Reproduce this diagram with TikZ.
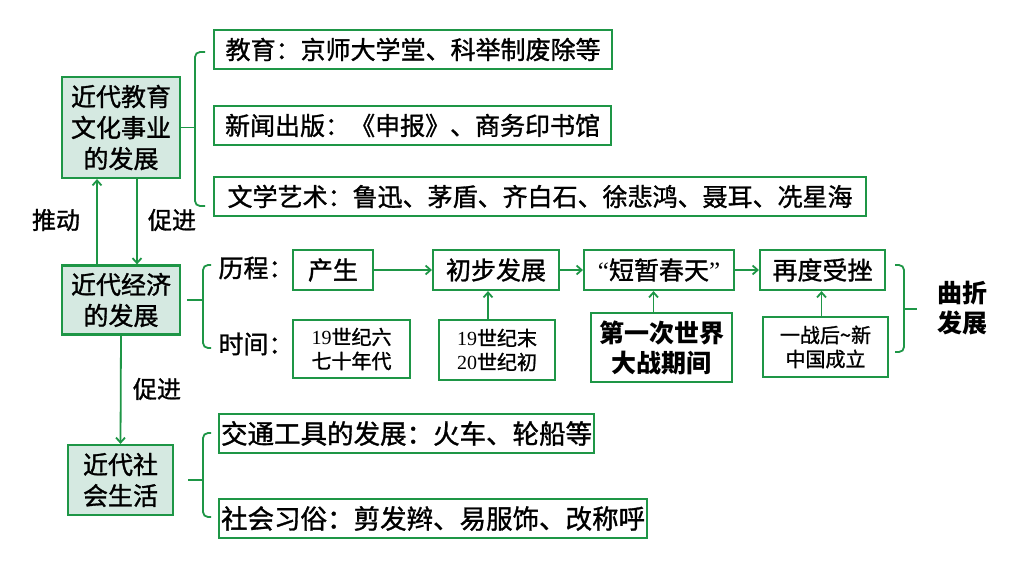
\documentclass[tikz,border=0pt]{standalone}
\usepackage{fontspec}
\setmainfont{Noto Sans CJK SC}[FakeBold=1.2]
\newfontfamily\heavyfont{Noto Sans CJK SC}
\newfontfamily\numfont{Liberation Serif}
\usepackage{tikz}
\usetikzlibrary{arrows.meta, positioning}
\definecolor{mapgreen}{RGB}{30,150,70}
\definecolor{topicfill}{RGB}{213,233,225}

\begin{document}
\begin{tikzpicture}[x=1pt,y=-1pt,
    topic/.style={draw=mapgreen,line width=2.2pt,fill=topicfill,align=center,
      inner sep=0pt,font=\fontsize{25}{31}\selectfont},
    item/.style={draw=mapgreen,line width=2.2pt,anchor=west,inner sep=0pt,
      minimum height=39pt,font=\fontsize{25}{30}\selectfont},
    stagebox/.style={draw=mapgreen,line width=2.2pt,inner sep=0pt,
      minimum height=40pt,font=\fontsize{25}{30}\selectfont},
    timebox/.style={draw=mapgreen,line width=2.2pt,inner sep=0pt,align=center,
      font=\fontsize{20}{24}\selectfont},
    lbl/.style={font=\fontsize{24}{28}\selectfont},
    arr/.style={draw=mapgreen,line width=1.8pt,-{Straight Barb[length=5pt,width=9pt]}},
    brace/.style={draw=mapgreen,line width=1.8pt,rounded corners=5pt}
  ]
  \fill[white] (0,0) rectangle (1024,576);
  \useasboundingbox (0,0) rectangle (1024,576);

  % three topics
  \node[topic,minimum width=118pt,minimum height=101pt] (culture) at (121,127.5) {近代教育\\文化事业\\的发展};
  \node[topic,minimum width=118pt,minimum height=69pt] (economy) at (121,300) {近代经济\\的发展};
  \node[topic,minimum width=105pt,minimum height=70pt] (society) at (120.5,480) {近代社\\会生活};

  \coordinate (pushx) at (97,0);
  \coordinate (promx) at (137,0);
  \draw[arr] (pushx |- economy.north) -- (pushx |- culture.south);
  \draw[arr] (promx |- culture.south) -- (promx |- economy.north);
  \draw[arr] (economy.south) -- (society.north);
  \node[lbl] (push) at (56,220) {推动};
  \node[lbl] (prom1) at (172,220) {促进};
  \node[lbl] (prom2) at (157,389) {促进};

  % culture items
  \node[item,minimum width=398pt] (edu) at (213,49.5) {教育：京师大学堂、科举制废除等};
  \node[item,minimum width=397pt] (press) at (213,125.5) {新闻出版：《申报》、商务印书馆};
  \node[item,minimum width=652pt] (arts) at (213,196.5) {文学艺术：鲁迅、茅盾、齐白石、徐悲鸿、聂耳、冼星海};
  \coordinate (bracea) at (195,127.5);
  \draw[brace] (culture.east) -- (bracea);
  \draw[brace] (205,52) -| (195,206) -- (205,206);

  % economy: stages and times
  \node[lbl,font=\fontsize{25}{30}\selectfont] (course) at (256,268) {历程：};
  \node[lbl,font=\fontsize{25}{30}\selectfont] (timing) at (256,344) {时间：};
  \coordinate (braceb) at (203,300);
  \draw[brace] ([xshift=6pt]economy.east) -- (braceb);
  \draw[brace] (211,265) -| (203,348) -- (211,348);

  \node[stagebox,minimum width=80pt] (birth) at (333,270) {产生};
  \node[stagebox,minimum width=126pt] (early) at (496,270) {初步发展};
  \node[stagebox,minimum width=150pt] (spring) at (659,270) {{\numfont “}短暂春天{\numfont ”}};
  \node[stagebox,minimum width=125pt] (setback) at (822.5,270) {再度受挫};
  \draw[arr] (birth) -- (early);
  \draw[arr] (early) -- (spring);
  \draw[arr] (spring) -- (setback);

  \node[timebox,minimum width=117pt,minimum height=58pt] (time1) at (351.5,349) {{\numfont 19}世纪六\\七十年代};
  \node[timebox,minimum width=116pt,minimum height=60pt] (time2) at (497,350) {{\numfont 19}世纪末\\{\numfont 20}世纪初};
  \node[timebox,minimum width=141pt,minimum height=69pt,
    font=\heavyfont\bfseries\fontsize{25}{30}\selectfont] (time3) at (661.5,347.5) {第一次世界\\大战期间};
  \node[timebox,minimum width=125pt,minimum height=60pt] (time4) at (825.5,347) {一战后\textasciitilde 新\\中国成立};
  \draw[arr] ([xshift=-9pt]time2.north) -- ([xshift=-9pt]time2.north |- early.south);
  \draw[arr] ([xshift=-8pt]time3.north) -- ([xshift=-8pt]time3.north |- spring.south);
  \draw[arr] ([xshift=-4pt]time4.north) -- ([xshift=-4pt]time4.north |- setback.south);

  \node[font=\heavyfont\bfseries\fontsize{25}{30}\selectfont,align=center] (twist) at (962,308) {曲折\\发展};
  \coordinate (bracec) at (904,309);
  \draw[brace] (895,265) -| (904,352) -- (895,352);
  \draw[brace] (bracec) -- ++(13,0);

  % society items
  \node[item,minimum width=375pt,font=\fontsize{26.5}{30}\selectfont] (traffic) at (218,433.5) {交通工具的发展：火车、轮船等};
  \node[item,minimum width=428pt,font=\fontsize{26.5}{30}\selectfont] (custom) at (218,518.5) {社会习俗：剪发辫、易服饰、改称呼};
  \coordinate (braced) at (203,480);
  \draw[brace] ([xshift=14pt]society.east) -- (braced);
  \draw[brace] (211,433) -| (203,517) -- (211,517);
\end{tikzpicture}
\end{document}
